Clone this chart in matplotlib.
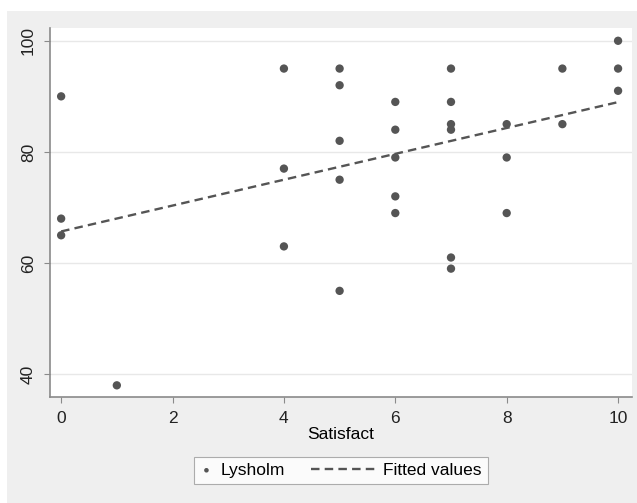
import numpy as np
import matplotlib
matplotlib.use('Agg')
import matplotlib.pyplot as plt
from matplotlib.patches import Rectangle
from matplotlib.lines import Line2D
from matplotlib.legend_handler import HandlerLine2D

plt.rcParams['font.family'] = ['Liberation Sans', 'DejaVu Sans']

# Lysholm score vs satisfaction
satisfact = [0, 0, 0, 1, 4, 4, 4, 5, 5, 5, 5, 5, 6, 6, 6, 6, 6,
             7, 7, 7, 7, 7, 7, 8, 8, 8, 9, 9, 10, 10, 10]
lysholm = [90, 68, 65, 38, 95, 77, 63, 95, 92, 82, 75, 55, 89, 84, 79, 72, 69,
           95, 89, 85, 84, 61, 59, 85, 79, 69, 95, 85, 100, 95, 91]
x_ticks = [0, 2, 4, 6, 8, 10]
y_ticks = [40, 60, 80, 100]

bg = '#efefef'
dot = '#555555'
axis_col = '#8a8a8a'
fs = 12.5


class LongLineHandler(HandlerLine2D):
    # legend line that reaches further left than the handle box
    def __init__(self, extra, **kw):
        super().__init__(**kw)
        self.extra = extra

    def create_artists(self, legend, orig_handle, xdescent, ydescent,
                       width, height, fontsize, trans):
        y = height / 2 - ydescent
        line = Line2D([-xdescent - self.extra, -xdescent + width], [y, y])
        self.update_prop(line, orig_handle, legend)
        line.set_marker('')
        line.set_transform(trans)
        return [line]


fig = plt.figure(figsize=(6.37, 5.03), dpi=100)
fig.patch.set_facecolor('white')
fig.patches.append(Rectangle((7 / 637, 0), 1 - 7 / 637, 1 - 11 / 503,
                             transform=fig.transFigure, facecolor=bg,
                             edgecolor='none', zorder=-10))

ax = fig.add_axes([50 / 637, 1 - 397 / 503, 582 / 637, 369 / 503])
ax.set_facecolor('white')

slope, intercept = np.polyfit(satisfact, lysholm, 1)
xs = np.array([min(satisfact), max(satisfact)])

sc = ax.scatter(satisfact, lysholm, s=36, color=dot, edgecolors='none',
                zorder=3, label='Lysholm')
fit, = ax.plot(xs, intercept + slope * xs, linestyle=(0, (3.6, 2.2)), color=dot,
               linewidth=1.7, zorder=4, label='Fitted values')

ax.set_xlim(-0.2, 10.25)
ax.set_ylim(35.9, 102.3)
ax.set_xticks(x_ticks)
ax.set_yticks(y_ticks)
ax.set_yticklabels([str(v) for v in y_ticks], rotation=90, va='center')
ax.grid(axis='y', color='#e8e8e8', linewidth=1)
ax.set_axisbelow(True)

for s in ['top', 'right']:
    ax.spines[s].set_visible(False)
for s in ['left', 'bottom']:
    ax.spines[s].set_color(axis_col)
    ax.spines[s].set_linewidth(1.2)
ax.tick_params(colors='#222222', labelsize=fs, length=4, width=0.8, pad=6)
ax.tick_params(axis='both', color=axis_col)

ax.set_xlabel('Satisfact', fontsize=fs, labelpad=1)

leg = ax.legend(handles=[sc, fit], loc='upper center',
                bbox_to_anchor=(0.5, -0.138), ncol=2, scatterpoints=1,
                frameon=True, fancybox=False, fontsize=fs,
                handlelength=0.7, columnspacing=4.5, markerscale=0.55,
                borderpad=0.35, handletextpad=0.46,
                handler_map={fit: LongLineHandler(37.4)})
leg.get_frame().set_edgecolor('#9a9a9a')
leg.get_frame().set_linewidth(0.8)

fig.savefig('out.png', dpi=100, facecolor=fig.get_facecolor())
